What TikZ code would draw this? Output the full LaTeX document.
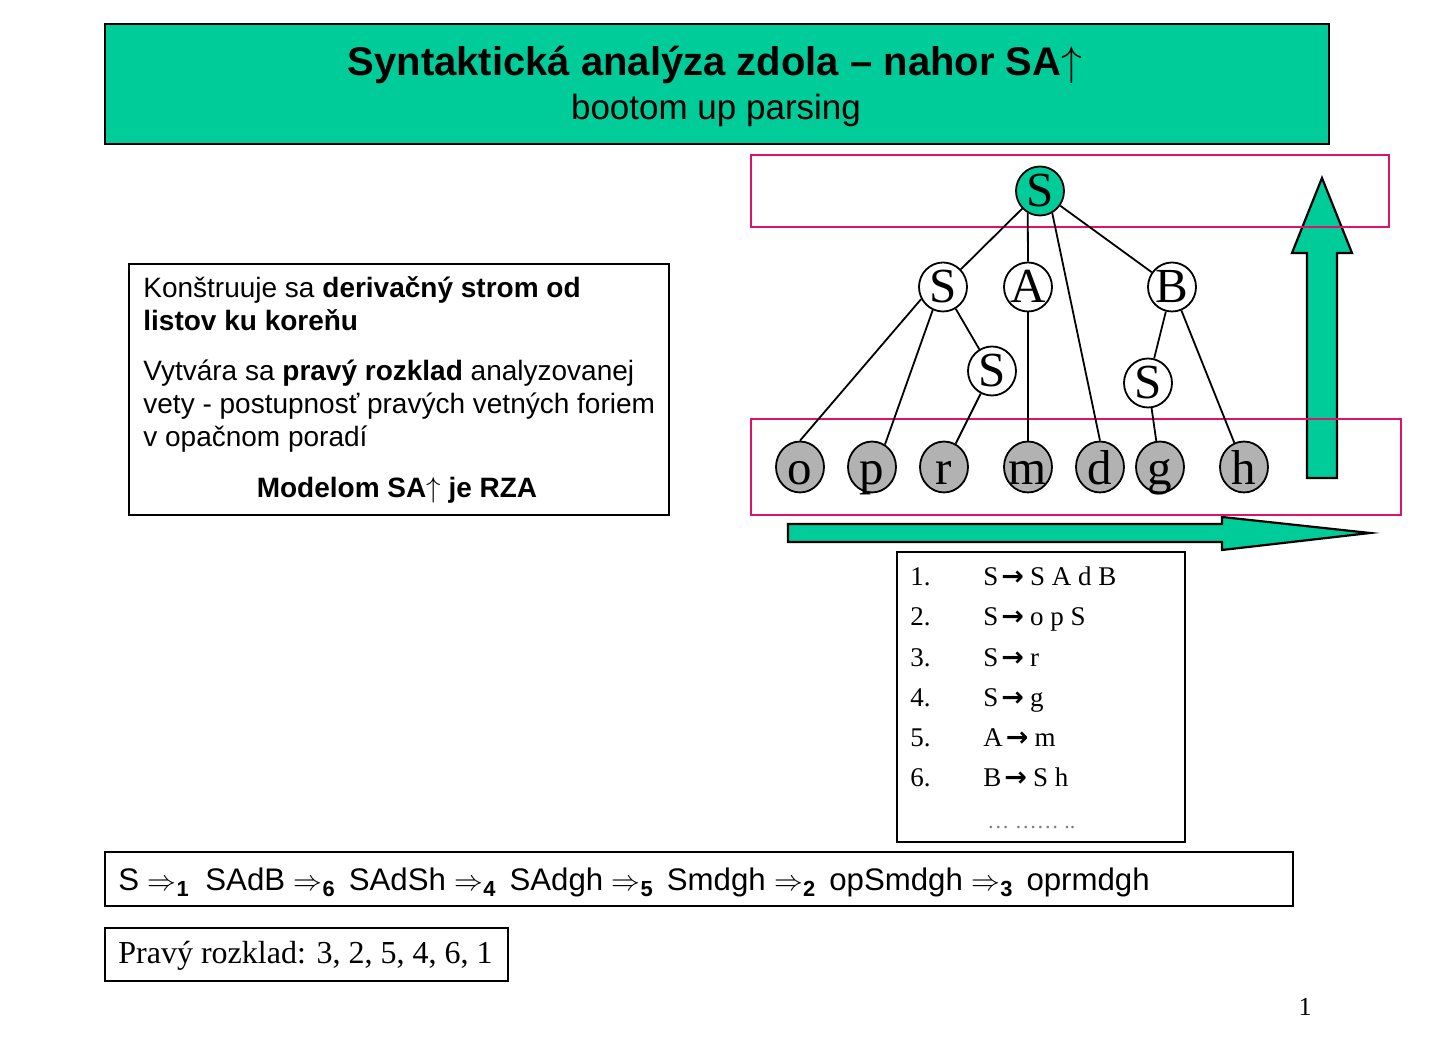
\documentclass[tikz,border=0pt]{standalone}
\usepackage{amsmath}
\usepackage{fontspec}
\setmainfont{Liberation Sans}
\newfontfamily\tms{Liberation Serif}
\newfontfamily\djv{DejaVu Sans}
\usetikzlibrary{shapes.geometric}
\definecolor{tealfill}{RGB}{0,204,153}
\definecolor{pinkline}{RGB}{222,18,108}
\definecolor{leafgray}{RGB}{178,178,178}
\newcommand{\ruarr}{\hspace{1.5pt}{\djv\bfseries →}\hspace{3pt}}
\newcommand{\dsub}[1]{$\Rightarrow_{\text{\bfseries #1}}$}
\begin{document}
\begin{tikzpicture}[x=0.5pt,y=-0.5pt,
  blackbox/.style={draw=black, line width=1pt, inner sep=0pt, anchor=north west},
  pinkbox/.style={draw=pinkline, line width=1pt},
  bigarrow/.style={draw=black, line width=1.1pt, fill=tealfill, line join=miter},
  treeline/.style={draw=black, line width=0.9pt},
  innernode/.style={ellipse, draw=black, line width=0.9pt, fill=white, minimum width=24pt, minimum height=24.5pt, inner sep=0pt,
     font=\tms\fontsize{24.5}{24}\selectfont, text height=16pt, text depth=0pt},
  rootnode/.style={innernode, fill=tealfill},
  leafnode/.style={innernode, fill=leafgray, text height=18pt},
  bodytext/.style={anchor=base west, font=\fontsize{14}{17}\selectfont, inner sep=0pt},
  ruletext/.style={anchor=base west, font=\tms\fontsize{13.5}{16}\selectfont, inner sep=0pt}
]
\useasboundingbox (0,0) rectangle (1432,1052);
\fill[white] (0,0) rectangle (1432,1052);

% title
\node[blackbox, fill=tealfill, minimum width=612pt, minimum height=60pt] (titlebox) at (104,23) {};
\node[anchor=base, inner sep=0pt, font=\bfseries\fontsize{20}{24}\selectfont] (title1) at (715,76) {Syntaktická analýza zdola – nahor SA$\uparrow$};
\node[anchor=base, inner sep=0pt, font=\fontsize{17.5}{21}\selectfont] (title2) at (716,120) {bootom up parsing};

% left text box
\node[blackbox, minimum width=270pt, minimum height=125.5pt] (leftbox) at (128,263) {};
\node[bodytext] (l1) at (143,298) {Konštruuje sa \textbf{derivačný strom od}};
\node[bodytext] (l2) at (143,331) {\textbf{listov ku koreňu}};
\node[bodytext] (l3) at (143,381) {Vytvára sa \textbf{pravý rozklad} analyzovanej};
\node[bodytext] (l4) at (143,414) {vety - postupnosť pravých vetných foriem};
\node[bodytext] (l5) at (143,447) {v opačnom poradí};
\node[anchor=base, inner sep=0pt, font=\fontsize{14}{17}\selectfont] (l6) at (397,498) {\textbf{Modelom SA}$\uparrow$\textbf{ je RZA}};

% big arrows
\draw[bigarrow] (1307,478) -- (1307,253) -- (1292,253) -- (1322,178) -- (1352,253) -- (1337,253) -- (1337,478) -- cycle;
\draw[bigarrow] (788,524) -- (1222,524) -- (1222,517) -- (1370,533) -- (1222,550) -- (1222,542) -- (788,542) -- cycle;

% pink frames
\draw[pinkbox] (751,155) rectangle (1389,227);
\draw[pinkbox] (751,419) rectangle (1401,515);

% tree nodes
\node[rootnode] (root) at (1040,191) {\makebox[0pt]{S}};
\node[innernode] (s1) at (943,287) {\makebox[0pt]{S}};
\node[innernode] (a) at (1028,287) {\makebox[0pt]{A}};
\node[innernode] (b) at (1172,287) {\makebox[0pt]{B}};
\node[innernode] (s2) at (992,371) {\makebox[0pt]{S}};
\node[innernode] (s3) at (1148,383) {\makebox[0pt]{S}};
\node[leafnode] (o) at (800,467) {\makebox[0pt]{o}};
\node[leafnode] (p) at (872,467) {\makebox[0pt]{p}};
\node[leafnode] (r) at (944,467) {\makebox[0pt]{r}};
\node[leafnode] (m) at (1028,467) {\makebox[0pt]{m}};
\node[leafnode] (d) at (1100,467) {\makebox[0pt]{d}};
\node[leafnode] (g) at (1160,467) {\makebox[0pt]{g}};
\node[leafnode] (h) at (1244,467) {\makebox[0pt]{h}};

% tree edges
\draw[treeline] (root) -- (s1);
\draw[treeline] (root.241) -- (a.north);
\draw[treeline] (root.299) -- (d.north);
\draw[treeline] (root) -- (b);
\draw[treeline] (s1.209) -- (o.north);
\draw[treeline] (s1.246) -- (p.60);
\draw[treeline] (s1) -- (s2);
\draw[treeline] (s2) -- (r);
\draw[treeline] (a) -- (m);
\draw[treeline] (b) -- (s3);
\draw[treeline] (b) -- (h);
\draw[treeline] (s3) -- (g);

% rules box
\node[blackbox, minimum width=144pt, minimum height=145pt] (rulebox) at (896,551) {};
\node[ruletext] (n1) at (910,586) {1.};
\node[ruletext] (n2) at (910,626) {2.};
\node[ruletext] (n3) at (910,667) {3.};
\node[ruletext] (n4) at (910,707) {4.};
\node[ruletext] (n5) at (910,747) {5.};
\node[ruletext] (n6) at (910,787) {6.};
\node[ruletext] (r1) at (983,586) {S\ruarr S A d B};
\node[ruletext] (r2) at (983,626) {S\ruarr o p S};
\node[ruletext] (r3) at (983,667) {S\ruarr r};
\node[ruletext] (r4) at (983,707) {S\ruarr g};
\node[ruletext] (r5) at (983,747) {A\ruarr m};
\node[ruletext] (r6) at (983,787) {B\ruarr S h};
\node[anchor=base west, inner sep=0pt, text=gray, font=\tms\fontsize{11}{12}\selectfont] (dots) at (987,829) {… …… ..};

% derivation box
\node[blackbox, minimum width=594pt, minimum height=27pt] (derivbox) at (104,851) {};
\node[anchor=base west, inner sep=0pt, font=\fontsize{15.6}{19}\selectfont] (deriv) at (118,891)
  {S \dsub{1}\enspace SAdB \dsub{6}\hspace{6.5pt}SAdSh \dsub{4}\hspace{6.5pt}SAdgh \dsub{5}\hspace{6.5pt}Smdgh \dsub{2}\hspace{6.5pt}opSmdgh \dsub{3}\hspace{6.5pt}oprmdgh};

% right parse box
\node[blackbox, minimum width=201.5pt, minimum height=26.5pt] (parsebox) at (104,927) {};
\node[anchor=base west, inner sep=0pt, font=\tms\fontsize{16}{19}\selectfont] (parse) at (118,964) {Pravý rozklad: 3, 2, 5, 4, 6, 1};

% page number
\node[anchor=base, inner sep=0pt, font=\tms\fontsize{13}{15}\selectfont] (pagenum) at (1305,1016) {1};
\end{tikzpicture}
\end{document}
